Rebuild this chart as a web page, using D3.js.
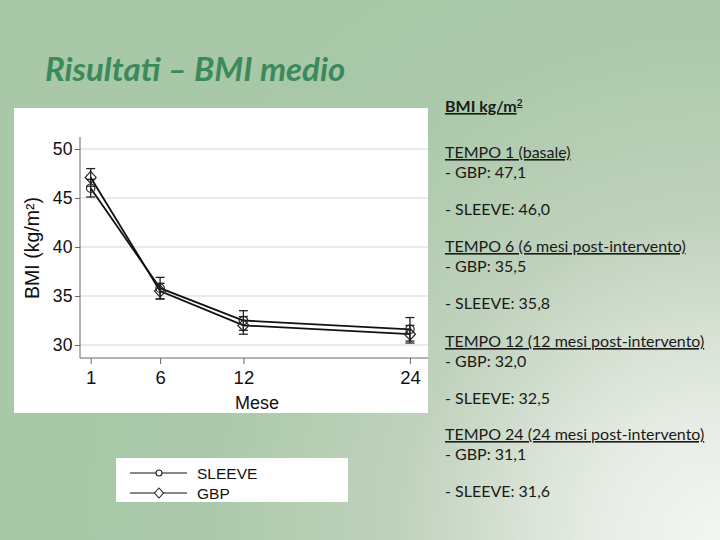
<!DOCTYPE html>
<html>
<head>
<meta charset="utf-8">
<script src="https://cdn.jsdelivr.net/npm/d3@7"></script>
<style>
  body { margin: 0; }
  svg { display: block; }
</style>
</head>
<body>
<div id="chart"></div>
<script>
// data
const months = [1, 6, 12, 24];
const xTicks = [1, 6, 12, 24];
const yTicks = [30, 35, 40, 45, 50];
const gbpMean = [47.1, 35.5, 32.0, 31.1];
const gbpLow = [46.2, 34.7, 31.1, 30.2];
const gbpHigh = [48.0, 36.3, 32.9, 32.0];
const sleeveMean = [46.0, 35.8, 32.5, 31.6];
const sleeveLow = [45.1, 34.7, 31.5, 30.4];
const sleeveHigh = [46.9, 36.9, 33.5, 32.8];
const seriesNames = ["SLEEVE", "GBP"];
const tempoLabels = ["TEMPO 1 (basale)", "TEMPO 6 (6 mesi post-intervento)",
  "TEMPO 12 (12 mesi post-intervento)", "TEMPO 24 (24 mesi post-intervento)"];

const W = 720, H = 540;
const svg = d3.select("#chart").append("svg")
  .attr("width", W).attr("height", H);

// slide background
const defs = svg.append("defs");
const grad = defs.append("radialGradient")
  .attr("id", "bg")
  .attr("gradientUnits", "userSpaceOnUse")
  .attr("cx", 720).attr("cy", 540).attr("r", 640);
grad.append("stop").attr("offset", 0).attr("stop-color", "#f4f6f3");
grad.append("stop").attr("offset", 0.2).attr("stop-color", "#e6ece4");
grad.append("stop").attr("offset", 0.5).attr("stop-color", "#c0d2bd");
grad.append("stop").attr("offset", 0.8).attr("stop-color", "#abc9aa");
grad.append("stop").attr("offset", 1).attr("stop-color", "#a8c8a8");
svg.append("rect").attr("width", W).attr("height", H).attr("fill", "url(#bg)");

svg.append("text")
  .attr("x", 45).attr("y", 81)
  .attr("font-family", "Lato, 'Open Sans', sans-serif")
  .attr("font-style", "italic").attr("font-weight", "bold")
  .attr("font-size", 33)
  .attr("fill", "#3b8a5c")
  .text("Risultati – BMI medio");

// chart panel
const panel = { x: 14, y: 108, w: 414, h: 305 };
svg.append("rect")
  .attr("x", panel.x).attr("y", panel.y)
  .attr("width", panel.w).attr("height", panel.h)
  .attr("fill", "#fff");

const axisX = 80, axisBottom = 358, axisTop = 137;
const xScale = d3.scaleLinear().domain([0.23, 25.3]).range([axisX, panel.x + panel.w]);
const yScale = d3.scaleLinear().domain([30, 50]).range([345, 149]);
const font = "'Liberation Sans', Arial, sans-serif";

const g = svg.append("g");

// gridlines
g.selectAll("line.grid").data(yTicks).join("line")
  .attr("class", "grid")
  .attr("x1", axisX).attr("x2", panel.x + panel.w)
  .attr("y1", d => yScale(d)).attr("y2", d => yScale(d))
  .attr("stroke", "#e3e3e3").attr("stroke-width", 1.5);

// y axis
const yAxis = g.append("g")
  .attr("transform", `translate(${axisX},0)`)
  .call(d3.axisLeft(yScale).tickValues(yTicks).tickSize(5).tickPadding(3));
yAxis.select(".domain").attr("d", `M0,${axisTop}V${axisBottom}`).attr("stroke", "#666");
yAxis.selectAll(".tick line").attr("stroke", "#666");
yAxis.selectAll("text").attr("font-family", font).attr("font-size", 18.5).attr("fill", "#111")
  .attr("transform", "scale(0.95,1)");

// x axis
const xAxis = g.append("g")
  .attr("transform", `translate(0,${axisBottom})`)
  .call(d3.axisBottom(xScale).tickValues(xTicks).tickSize(6).tickPadding(7));
xAxis.select(".domain").attr("d", `M${axisX},0H${panel.x + panel.w}`).attr("stroke", "#666");
xAxis.selectAll(".tick line").attr("stroke", "#666");
xAxis.selectAll("text").attr("font-family", font).attr("font-size", 18.5).attr("fill", "#111");

g.append("text")
  .attr("x", 257).attr("y", 409)
  .attr("text-anchor", "middle")
  .attr("font-family", font).attr("font-size", 18).attr("fill", "#111")
  .text("Mese");

g.append("text")
  .attr("transform", `translate(39,248) rotate(-90)`)
  .attr("text-anchor", "middle")
  .attr("font-family", font).attr("font-size", 19.5).attr("fill", "#111")
  .text("BMI (kg/m²)");

const series = [
  { name: "SLEEVE", mean: sleeveMean, low: sleeveLow, high: sleeveHigh, shape: "circle" },
  { name: "GBP", mean: gbpMean, low: gbpLow, high: gbpHigh, shape: "diamond" }
];

const line = d3.line().x(d => xScale(d[0])).y(d => yScale(d[1]));

series.forEach(s => {
  const pts = months.map((m, i) => [m, s.mean[i]]);
  g.append("path")
    .attr("d", line(pts))
    .attr("fill", "none").attr("stroke", "#111").attr("stroke-width", 1.8);

  // error bars
  months.forEach((m, i) => {
    const x = xScale(m);
    g.append("line")
      .attr("x1", x).attr("x2", x)
      .attr("y1", yScale(s.low[i])).attr("y2", yScale(s.high[i]))
      .attr("stroke", "#222").attr("stroke-width", 1.3);
    [s.low[i], s.high[i]].forEach(v => {
      g.append("line")
        .attr("x1", x - 4.5).attr("x2", x + 4.5)
        .attr("y1", yScale(v)).attr("y2", yScale(v))
        .attr("stroke", "#222").attr("stroke-width", 1.3);
    });
  });
});

function marker(sel, shape, x, y) {
  if (shape === "circle") {
    sel.append("circle").attr("cx", x).attr("cy", y).attr("r", 4.2)
      .attr("fill", "none").attr("stroke", "#222").attr("stroke-width", 1.2);
  } else {
    sel.append("path")
      .attr("d", `M${x},${y - 6}L${x + 5.5},${y}L${x},${y + 6}L${x - 5.5},${y}Z`)
      .attr("fill", "none").attr("stroke", "#222").attr("stroke-width", 1.2);
  }
}

series.forEach(s => {
  months.forEach((m, i) => marker(g, s.shape, xScale(m), yScale(s.mean[i])));
});

// legend
const leg = svg.append("g");
leg.append("rect").attr("x", 116).attr("y", 458).attr("width", 232).attr("height", 44).attr("fill", "#fff");
series.forEach((s, i) => {
  const y = 473 + i * 20;
  leg.append("line").attr("x1", 130).attr("x2", 187).attr("y1", y).attr("y2", y)
    .attr("stroke", "#111").attr("stroke-width", 1.2);
  if (s.shape === "circle") {
    leg.append("circle").attr("cx", 159).attr("cy", y).attr("r", 3)
      .attr("fill", "#fff").attr("stroke", "#222").attr("stroke-width", 1.1);
  } else {
    leg.append("path").attr("d", `M159,${y - 5}L163.5,${y}L159,${y + 5}L154.5,${y}Z`)
      .attr("fill", "#fff").attr("stroke", "#222").attr("stroke-width", 1.1);
  }
  leg.append("text").attr("x", 197).attr("y", y + 5.5)
    .attr("font-family", font).attr("font-size", 15.5).attr("fill", "#111")
    .text(s.name);
});

// right-hand text
const fmt = v => v.toFixed(1).replace(".", ",");
const tfont = "Lato, 'Open Sans', sans-serif";
const txt = svg.append("g")
  .attr("font-family", tfont).attr("font-size", 16).attr("fill", "#1a1a1a");

const head = txt.append("text").attr("x", 445).attr("y", 112)
  .attr("font-weight", "bold").attr("text-decoration", "underline");
head.append("tspan").text("BMI kg/m");
head.append("tspan").attr("font-size", 10).attr("dy", -6).text("2");

const headY = [153, 247, 342, 435];
tempoLabels.forEach((lab, i) => {
  const y0 = headY[i];
  txt.append("text").attr("x", 445).attr("y", y0 + 5)
    .attr("text-decoration", "underline").text(lab);
  txt.append("text").attr("x", 445).attr("y", y0 + 25)
    .text("- GBP: " + fmt(gbpMean[i]));
  txt.append("text").attr("x", 445).attr("y", y0 + 62)
    .text("- SLEEVE: " + fmt(sleeveMean[i]));
});
</script>
</body>
</html>
